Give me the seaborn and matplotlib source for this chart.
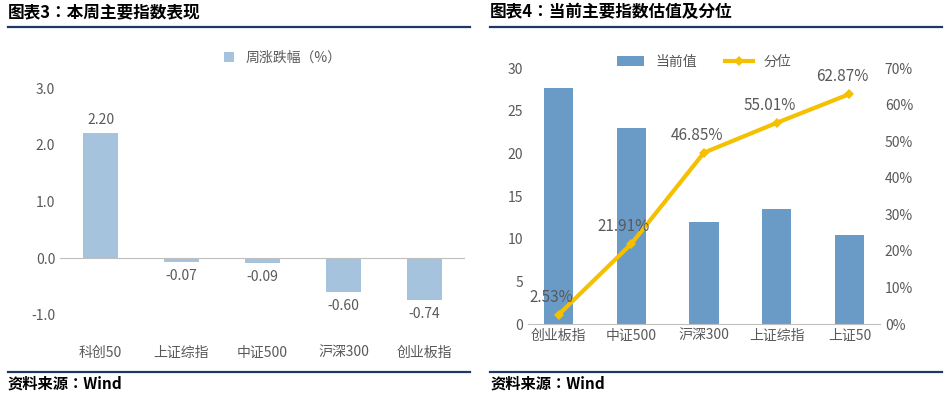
import matplotlib.pyplot as plt
import matplotlib.lines as mlines
import seaborn as sns
import pandas as pd

plt.rcParams["font.family"] = ["Noto Sans CJK JP", "Noto Sans CJK SC", "DejaVu Sans"]

# left panel data
week_names = ["科创50", "上证综指", "中证500", "沪深300", "创业板指"]
week_change = [2.20, -0.07, -0.09, -0.60, -0.74]

# right panel data
val_names = ["创业板指", "中证500", "沪深300", "上证综指", "上证50"]
val_now = [27.7, 23.0, 11.9, 13.5, 10.4]
val_pct = [2.53, 21.91, 46.85, 55.01, 62.87]

grey = "#595959"
navy = "#1F3864"

fig = plt.figure(figsize=(9.5, 4), dpi=100)

# titles, rules, source
fig.text(8 / 950, 1 - 12 / 400, "图表3：本周主要指数表现", fontsize=12, fontweight="bold", va="center")
fig.text(490 / 950, 1 - 12 / 400, "图表4：当前主要指数估值及分位", fontsize=12, fontweight="bold", va="center")
fig.text(8 / 950, 1 - 384 / 400, "资料来源：Wind", fontsize=11, fontweight="bold", va="center")
fig.text(490 / 950, 1 - 384 / 400, "资料来源：Wind", fontsize=11, fontweight="bold", va="center")
for x0, x1 in [(8, 470), (490, 942)]:
    for y in (27, 372):
        fig.add_artist(mlines.Line2D([x0 / 950, x1 / 950], [1 - y / 400] * 2, color=navy, lw=1.6))

# left chart
df1 = pd.DataFrame({"name": week_names, "chg": week_change})
ax1 = fig.add_axes([60 / 950, 85 / 400, 405 / 950, 227 / 400])
sns.barplot(data=df1, x="name", y="chg", color="#9DC3E6", width=0.42, ax=ax1, label="周涨跌幅（%）")
ax1.set_ylim(-1.0, 3.0)
ax1.set_yticks([-1.0, 0.0, 1.0, 2.0, 3.0])
ax1.set_yticklabels(["-1.0", "0.0", "1.0", "2.0", "3.0"])
ax1.axhline(0, color="#BFBFBF", lw=0.8)
for i, v in enumerate(week_change):
    off = 0.12 if v > 0 else -0.12
    ax1.text(i, v + off, f"{v:.2f}", ha="center", va="bottom" if v > 0 else "top", color=grey, fontsize=10)
ax1.set_xlabel("")
ax1.set_ylabel("")
ax1.tick_params(length=0, colors=grey, labelsize=10)
ax1.tick_params(axis="x", pad=22)
for s in ax1.spines.values():
    s.set_visible(False)
ax1.legend(loc="upper center", bbox_to_anchor=(0.55, 1.22), frameon=False, fontsize=10,
           labelcolor=grey, handlelength=0.7, handleheight=0.7)

# right chart
df2 = pd.DataFrame({"name": val_names, "now": val_now, "pct": val_pct})
ax2 = fig.add_axes([528 / 950, 76 / 400, 352 / 950, 256 / 400])
sns.barplot(data=df2, x="name", y="now", color="#5B9BD5", width=0.4, ax=ax2, label="当前值")
ax2.set_ylim(0, 30)
ax2.set_yticks(range(0, 31, 5))
ax2.set_xlabel("")
ax2.set_ylabel("")
ax2.tick_params(length=0, colors=grey, labelsize=10)
h1, l1 = ax2.get_legend_handles_labels()
if ax2.get_legend() is not None:
    ax2.get_legend().remove()
ax3 = ax2.twinx()
sns.lineplot(x=range(len(val_names)), y=val_pct, color="#F5C000", lw=3, marker="D", markersize=5,
             markeredgewidth=0, ax=ax3, label="分位")
ax3.set_ylim(0, 70)
ax3.set_yticks(range(0, 71, 10))
ax3.set_yticklabels([f"{t}%" for t in range(0, 71, 10)])
ax3.tick_params(length=0, colors=grey, labelsize=10)
for i, v in enumerate(val_pct):
    ax3.text(i - 0.1, v + 2.5, f"{v:.2f}%", ha="center", va="bottom", color=grey, fontsize=11)
for a in (ax2, ax3):
    for s in a.spines.values():
        s.set_visible(False)
ax2.spines["bottom"].set_visible(True)
ax2.spines["bottom"].set_color("#BFBFBF")
h2, l2 = ax3.get_legend_handles_labels()
ax3.get_legend().remove()
ax3.legend(h1 + h2, l1 + l2, loc="upper center", bbox_to_anchor=(0.5, 1.1), ncol=2, frameon=False,
           fontsize=10, labelcolor=grey, columnspacing=2)

fig.savefig("out.png", dpi=100)
